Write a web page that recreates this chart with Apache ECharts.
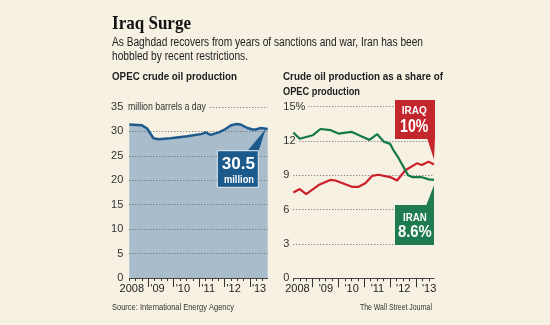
<!DOCTYPE html>
<html><head><meta charset="utf-8">
<script src="https://cdn.jsdelivr.net/npm/echarts@6/dist/echarts.min.js"></script>
<style>html,body{margin:0;padding:0;background:#f7f1e3;}#c{width:550px;height:325px;}</style>
</head><body><div id="c"></div>
<script>
// ---- data ----
const opecYears  = [2008.25, 2008.75, 2008.95, 2009.2, 2009.4, 2009.87, 2010.53, 2011.12, 2011.25, 2011.45, 2011.78, 2012.04, 2012.24, 2012.44, 2012.64, 2012.9, 2013.1, 2013.23, 2013.43, 2013.7];
const opecOutput = [31.4, 31.25, 30.6, 28.6, 28.4, 28.6, 29.0, 29.5, 29.8, 29.3, 29.8, 30.5, 31.2, 31.5, 31.4, 30.7, 30.4, 30.4, 30.7, 30.5];

const iraqYears = [2008.25, 2008.5, 2008.75, 2009.23, 2009.68, 2009.88, 2010.52, 2010.78, 2011.04, 2011.3, 2011.55, 2012.0, 2012.27, 2012.59, 2013.04, 2013.23, 2013.49, 2013.7];
const iraqShare = [7.5, 7.8, 7.35, 8.15, 8.6, 8.55, 8.0, 8.0, 8.3, 8.95, 9.05, 8.85, 8.55, 9.45, 10.05, 9.9, 10.2, 9.95];

const iranYears = [2008.25, 2008.5, 2009.0, 2009.3, 2009.7, 2010.0, 2010.5, 2010.9, 2011.2, 2011.5, 2011.75, 2012.0, 2012.13, 2012.33, 2012.7, 2012.85, 2013.2, 2013.5, 2013.7];
const iranShare = [12.75, 12.2, 12.5, 13.05, 12.95, 12.65, 12.8, 12.4, 12.1, 12.6, 11.95, 11.75, 11.2, 10.5, 9.0, 8.85, 8.85, 8.65, 8.6];

const yearTicks  = [2009, 2010, 2011, 2012, 2013];
const yearLabels = ['2008', "'09", "'10", "'11", "'12", "'13"];
const quarterTicks = [2008.25, 2008.5, 2008.75, 2009.25, 2009.5, 2009.75, 2010.25, 2010.5, 2010.75, 2011.25, 2011.5, 2011.75, 2012.25, 2012.5, 2012.75, 2013.25, 2013.5];

const xMin = 2008.25, xMax = 2013.7;
const BG = '#f7f1e3';

// ---- helpers ----
const mctx = document.createElement('canvas').getContext('2d');
function sx(text, font, w) { mctx.font = font; return w / mctx.measureText(text).width; }
function txt(text, x, y, font, w, color, styleExtra) {
  return { type: 'text', x: x, y: y, scaleX: sx(text, font, w), z: 100,
    style: Object.assign({ text: text, font: font, fill: color, align: 'left', verticalAlign: 'middle' }, styleExtra || {}) };
}
function ctxt(text, cx, y, font, w, color) {
  const s = sx(text, font, w);
  return { type: 'text', x: cx - w / 2, y: y, scaleX: s, z: 101,
    style: { text: text, font: font, fill: color, align: 'left', verticalAlign: 'middle' } };
}
function labelPos(offset, first) {
  return [first].concat(yearTicks.map(y => y + offset));
}
function labelFmt(v) {
  const i = Math.floor(v) - 2008;
  return yearLabels[i];
}

function xAxes(grid, labelOffset, firstLabel) {
  return [
    { type: 'value', gridIndex: grid, min: xMin, max: xMax, position: 'bottom',
      axisLine: { show: true, onZero: false, lineStyle: { color: '#333', width: 1 } },
      axisTick: { show: true, customValues: yearTicks, length: 9, lineStyle: { color: '#333', width: 1 } },
      axisLabel: { show: true, customValues: labelPos(labelOffset, firstLabel), formatter: labelFmt,
        margin: 5, fontSize: 11, fontFamily: 'Liberation Sans', color: '#222', align: 'center' },
      splitLine: { show: false } },
    { type: 'value', gridIndex: grid, min: xMin, max: xMax, position: 'bottom',
      axisLine: { show: false },
      axisTick: { show: true, customValues: quarterTicks, length: 3, lineStyle: { color: '#333', width: 1 } },
      axisLabel: { show: false }, splitLine: { show: false } }
  ];
}

const dotted = { color: '#666', type: [1, 2], width: 1 };

const option = {
  backgroundColor: BG,
  animation: false,
  grid: [
    { left: 129.3, right: 282.3, top: 107, bottom: 47 },
    { left: 293.3, right: 116, top: 106.7, bottom: 46.7 }
  ],
  xAxis: xAxes(0, 0.36, 2008.35).concat(xAxes(1, 0.51, 2008.41)),
  yAxis: [
    { type: 'value', gridIndex: 0, min: 0, max: 35, interval: 5, z: 3,
      axisLine: { show: false }, axisTick: { show: false },
      axisLabel: { margin: 6, fontSize: 11, fontFamily: 'Liberation Sans', color: '#333' },
      splitLine: { show: true, lineStyle: dotted } },
    { type: 'value', gridIndex: 1, min: 0, max: 15, interval: 3, z: 3,
      axisLine: { show: false }, axisTick: { show: false },
      axisLabel: { margin: 10, align: 'left', fontSize: 11, fontFamily: 'Liberation Sans', color: '#333',
        backgroundColor: BG, padding: [0, 3, 0, 0],
        formatter: v => v === 15 ? '15%' : String(v) },
      splitLine: { show: true, lineStyle: dotted } }
  ],
  series: [
    { type: 'line', xAxisIndex: 0, yAxisIndex: 0, z: 2, symbol: 'none',
      data: opecYears.map((x, i) => [x, opecOutput[i]]),
      lineStyle: { width: 0 }, areaStyle: { color: '#a9bccc', opacity: 1 } },
    { type: 'line', xAxisIndex: 0, yAxisIndex: 0, z: 5, symbol: 'none',
      data: opecYears.map((x, i) => [x, opecOutput[i]]),
      lineStyle: { width: 2.5, color: '#1d5a8d' } },
    { type: 'line', xAxisIndex: 2, yAxisIndex: 1, z: 5, symbol: 'none',
      data: iraqYears.map((x, i) => [x, iraqShare[i]]),
      lineStyle: { width: 2.2, color: '#cc1f2a' } },
    { type: 'line', xAxisIndex: 2, yAxisIndex: 1, z: 5, symbol: 'none',
      data: iranYears.map((x, i) => [x, iranShare[i]]),
      lineStyle: { width: 2.2, color: '#137a47' } }
  ]
};

const chart = echarts.init(document.getElementById('c'), null, { renderer: 'canvas' });
chart.setOption(option);

const tipL = chart.convertToPixel({ seriesIndex: 1 }, [opecYears[opecYears.length - 1], opecOutput[opecOutput.length - 1]]);
const tipQ = chart.convertToPixel({ seriesIndex: 2 }, [iraqYears[iraqYears.length - 1], iraqShare[iraqShare.length - 1]]);
const tipN = chart.convertToPixel({ seriesIndex: 3 }, [iranYears[iranYears.length - 1], iranShare[iranShare.length - 1]]);

const SANS = '"Liberation Sans"';
const BLUE = '#1c5a8c', RED = '#c4262e', GREEN = '#1e7b4f';

const graphics = [
  txt('Iraq Surge', 112, 24, 'bold 19px "Liberation Serif"', 79, '#111'),
  txt('As Baghdad recovers from years of sanctions and war, Iran has been', 112, 43, '12.5px ' + SANS, 311, '#222'),
  txt('hobbled by recent restrictions.', 112, 57, '12.5px ' + SANS, 136, '#222'),
  txt('OPEC crude oil production', 112, 77, 'bold 11.5px ' + SANS, 125, '#222'),
  txt('Crude oil production as a share of', 283, 77, 'bold 11.5px ' + SANS, 160, '#222'),
  txt('OPEC production', 283, 92, 'bold 11.5px ' + SANS, 77, '#222'),
  txt('million barrels a day', 128, 107, '11px ' + SANS, 78, '#333', { backgroundColor: BG, padding: [2, 4, 2, 0] }),
  txt('Source: International Energy Agency', 112, 307, '9.5px ' + SANS, 122, '#333'),
  txt('The Wall Street Journal', 360, 307, '9.5px ' + SANS, 72, '#333'),

  // OPEC callout
  { type: 'polygon', z: 99, shape: { points: [[246.5, 152], [258.3, 152], [tipL[0] - 2, tipL[1]]] }, style: { fill: BLUE } },
  { type: 'rect', z: 100, shape: { x: 217.3, y: 150.7, width: 41, height: 36.6 }, style: { fill: BLUE, stroke: '#e6ecf0', lineWidth: 1 } },
  ctxt('30.5', 238.3, 164, 'bold 17px ' + SANS, 33.3, '#fff'),
  ctxt('million', 239, 180, 'bold 11px ' + SANS, 30, '#fff'),

  // Iraq callout
  { type: 'polygon', z: 99, shape: { points: [[427, 138], [435, 138], [tipQ[0], tipQ[1] - 5]] }, style: { fill: RED } },
  { type: 'rect', z: 100, shape: { x: 395, y: 100, width: 40, height: 39 }, style: { fill: RED } },
  ctxt('IRAQ', 414.2, 111.7, 'bold 10px ' + SANS, 25, '#fff'),
  ctxt('10%', 414.2, 126.7, 'bold 18px ' + SANS, 28.3, '#fff'),

  // Iran callout
  { type: 'polygon', z: 99, shape: { points: [[426, 206], [434, 206], [tipN[0], tipN[1] + 5]] }, style: { fill: GREEN } },
  { type: 'rect', z: 100, shape: { x: 395, y: 205, width: 39, height: 40 }, style: { fill: GREEN } },
  ctxt('IRAN', 414.8, 218, 'bold 10.5px ' + SANS, 23.7, '#fff'),
  ctxt('8.6%', 414.8, 232, 'bold 17px ' + SANS, 33.7, '#fff')
];
chart.setOption({ graphic: graphics });
</script>
</body></html>
